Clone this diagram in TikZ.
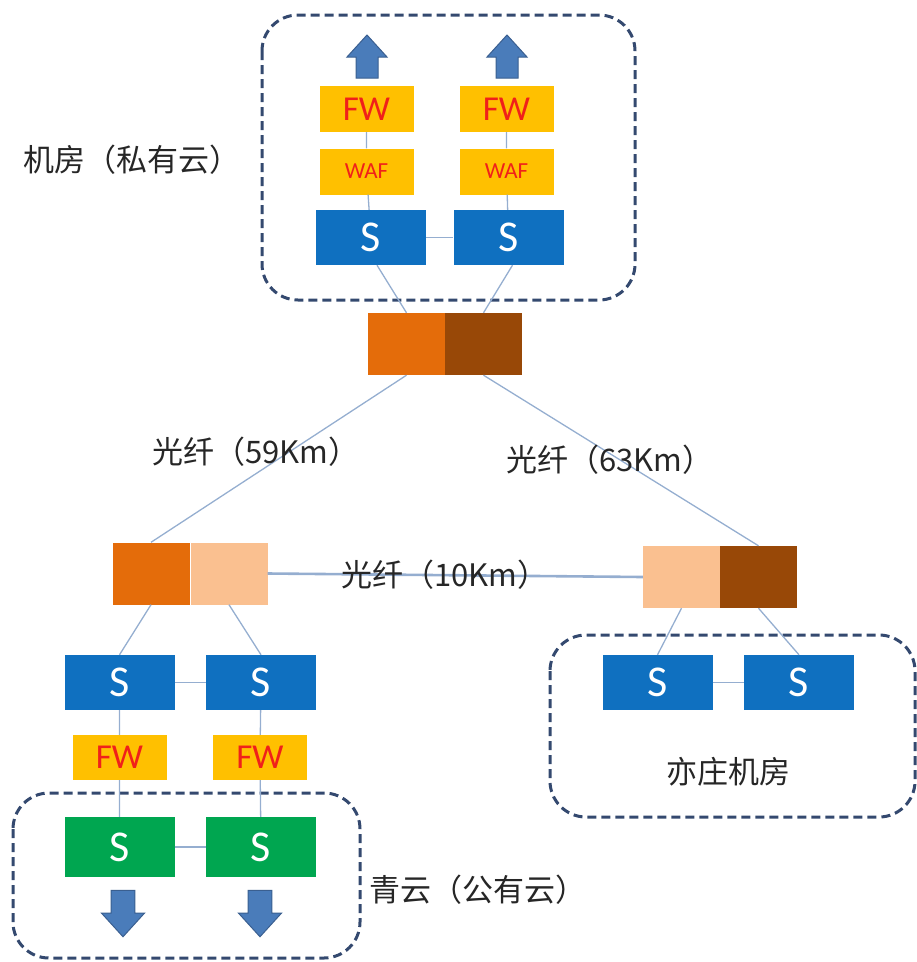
\documentclass[tikz,border=0pt]{standalone}
\usepackage{fontspec}
\setmainfont{Carlito}
\newfontfamily\cjk{Noto Sans CJK SC}
\usepackage{xcolor}
\usepackage{tikz}

\definecolor{sblue}{HTML}{0F70C0}
\definecolor{sgreen}{HTML}{00A650}
\definecolor{fwyellow}{HTML}{FFC000}
\definecolor{fwred}{HTML}{F0201A}
\definecolor{rorange}{HTML}{E46C0A}
\definecolor{rbrown}{HTML}{984807}
\definecolor{rpeach}{HTML}{FAC090}
\definecolor{linkgray}{HTML}{95AED0}
\definecolor{dashnavy}{HTML}{34496F}
\definecolor{arrowblue}{HTML}{4A7CBA}
\definecolor{arrowedge}{HTML}{3A5F90}

\begin{document}
\begin{tikzpicture}[x=1pt, y=-1pt,
    sbox/.style={fill=sblue, text=white, minimum width=110pt, minimum height=55pt, inner sep=0pt, font=\fontsize{44}{44}\selectfont},
    gbox/.style={sbox, fill=sgreen, minimum height=60pt},
    fwbox/.style={fill=fwyellow, text=fwred, minimum width=94pt, minimum height=46pt, inner sep=0pt, font=\fontsize{35}{35}\selectfont},
    wafbox/.style={fwbox, font=\fontsize{23}{23}\selectfont},
    rhalf/.style={minimum width=77pt, minimum height=62pt, inner sep=0pt},
    link/.style={draw=linkgray, line width=1.3pt},
    room/.style={draw=dashnavy, line width=3pt, dash pattern=on 9pt off 5pt, rounded corners=36pt},
    label/.style={font=\cjk\fontsize{31}{33}\selectfont, text=black!85},
    fatarrow/.pic={\filldraw[fill=arrowblue, draw=arrowedge, line width=1pt]
        (0,-22) -- (20,0) -- (11,0) -- (11,21) -- (-11,21) -- (-11,0) -- (-20,0) -- cycle;}]
  \useasboundingbox (0,0) rectangle (917,962);

  \draw[room] (262,15) rectangle (635,300);
  \draw[room] (13,793) rectangle (360,958);
  \draw[room] (550,635) rectangle (915,817);

  \pic at (367,57) {fatarrow};
  \pic at (507,57) {fatarrow};
  \node[fwbox] (fw1) at (366.5,109) {FW};
  \node[fwbox] (fw2) at (506.5,109) {FW};
  \node[wafbox] (waf1) at (366.5,171.5) {WAF};
  \node[wafbox] (waf2) at (506.5,171.5) {WAF};
  \node[sbox] (s1) at (371,237.5) {S};
  \node[sbox] (s2) at (508.5,237.5) {S};
  \node[label, anchor=west] (pvt) at (20,160) {机房（私有云）};

  \node[rhalf, fill=rorange] (tl) at (406.5,344) {};
  \node[rhalf, fill=rbrown] (tr) at (483.5,344) {};
  \node[rhalf, fill=rorange] (ll) at (151,573.5) {};
  \node[rhalf, fill=rpeach] (lr) at (229,573.5) {};
  \node[rhalf, fill=rpeach] (rl) at (681.5,577) {};
  \node[rhalf, fill=rbrown] (rr) at (758.5,577) {};

  \node[sbox] (b1) at (119.5,682.5) {S};
  \node[sbox] (b2) at (261,682.5) {S};
  \node[fwbox, minimum height=45pt] (bf1) at (119.5,757.5) {FW};
  \node[fwbox, minimum height=45pt] (bf2) at (260,757.5) {FW};
  \node[gbox] (g1) at (119.5,847) {S};
  \node[gbox] (g2) at (261,847) {S};
  \pic[rotate=180, scale=1.08] at (123,913) {fatarrow};
  \pic[rotate=180, scale=1.08] at (260,913) {fatarrow};
  \node[label, anchor=west] (pub) at (366,890) {青云（公有云）};

  \node[sbox] (r1) at (657.5,682.5) {S};
  \node[sbox] (r2) at (799,682.5) {S};
  \node[label] (yz) at (728,772) {亦庄机房};

  \draw[link] (fw1) -- (waf1) (waf1) -- (s1) (fw2) -- (waf2) (waf2) -- (s2);
  \draw[link] (s1) -- (s2);
  \draw[link] ([xshift=6pt]s1.south) -- (tl.north);
  \draw[link] ([xshift=4pt]s2.south) -- (tr.north);
  \draw[link] (tl.south) -- (ll.north);
  \draw[link] (tr.south) -- (rr.north);
  \draw[link, line width=2.6pt] (lr.east) -- (rl.west);
  \draw[link] (ll.south) -- (b1.north);
  \draw[link] (lr.south) -- (b2.north);
  \draw[link] (rl.south) -- (r1.north);
  \draw[link] (rr.south) -- (r2.north);
  \draw[link] (b1) -- (b2) (g1) -- (g2) (r1) -- (r2);
  \draw[link] (b1) -- (bf1) (bf1) -- (g1) (b2) -- (bf2) (bf2) -- (g2);

  \node[label] (f59) at (256,452) {光纤（59Km）};
  \node[label] (f63) at (610,460) {光纤（63Km）};
  \node[label] (f10) at (445,575) {光纤（10Km）};
\end{tikzpicture}
\end{document}
